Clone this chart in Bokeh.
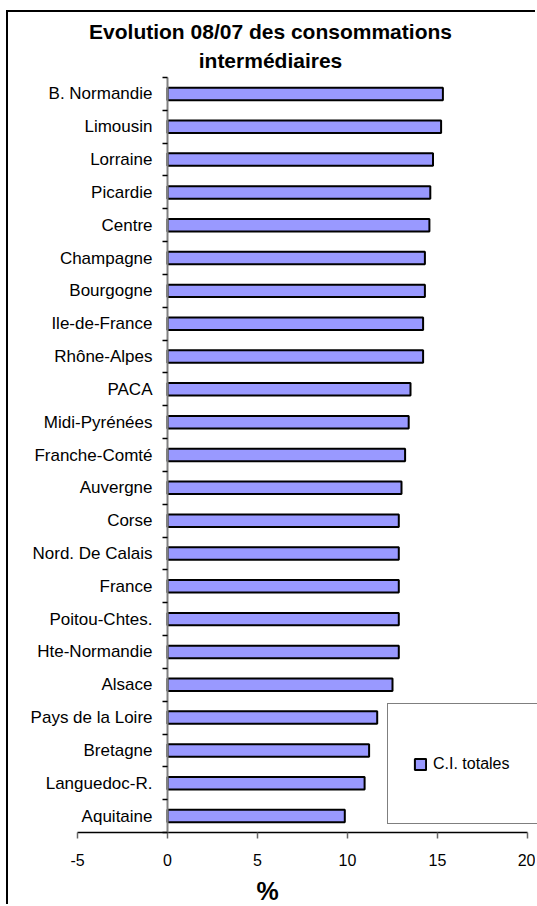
from bokeh.plotting import figure
from bokeh.models import Range1d, FixedTicker, Label, Legend, LegendItem
from bokeh.embed import file_html
from bokeh.resources import INLINE

# ---- data ----
regions = ["B. Normandie", "Limousin", "Lorraine", "Picardie", "Centre", "Champagne",
           "Bourgogne", "Ile-de-France", "Rhône-Alpes", "PACA", "Midi-Pyrénées",
           "Franche-Comté", "Auvergne", "Corse", "Nord. De Calais", "France",
           "Poitou-Chtes.", "Hte-Normandie", "Alsace", "Pays de la Loire", "Bretagne",
           "Languedoc-R.", "Aquitaine"]
values = [15.3, 15.2, 14.75, 14.6, 14.55, 14.3, 14.3, 14.2, 14.2, 13.5, 13.4, 13.2,
          13.0, 12.85, 12.85, 12.85, 12.85, 12.85, 12.5, 11.65, 11.2, 10.95, 9.85]
x_ticks = [-5, 0, 5, 10, 15, 20]
series_name = "C.I. totales"
title_lines = ["Evolution 08/07 des consommations", "intermédiaires"]
x_label = "%"

FONT = "Liberation Sans"
n = len(regions)
ypos = [n - 1 - i for i in range(n)]
boundaries = [k - 0.5 for k in range(n + 1)]

# ---- layout (pixels of the canvas) ----
W, H = 529, 894
x_min_px, x_max_px = 69, 519          # where x_ticks[0] and x_ticks[-1] sit
cat_top_px, cat_bot_px = 65, 820      # top / bottom of the category band
ppx = (x_max_px - x_min_px) / (x_ticks[-1] - x_ticks[0])
x_start = x_ticks[0] - x_min_px / ppx
x_end = x_ticks[-1] + (W - x_max_px) / ppx
ppy = (cat_bot_px - cat_top_px) / n
y_end = (n - 0.5) + cat_top_px / ppy
y_start = -0.5 - (H - cat_bot_px) / ppy

p = figure(width=W, height=H, output_backend="svg", toolbar_location=None,
           x_range=Range1d(x_start, x_end), y_range=Range1d(y_start, y_end),
           min_border=0, min_border_left=0, min_border_right=0,
           min_border_top=0, min_border_bottom=0)
p.styles = {"border-left": "2px solid black", "border-top": "2px solid black",
            "margin-left": "6px", "margin-top": "10px"}
p.outline_line_color = None
p.xgrid.visible = False
p.ygrid.visible = False

bars = p.hbar(y=ypos, left=0, right=values, height=0.38, fill_color="#9999FF",
              line_color="black", line_width=2)

# x axis on the bottom of the category band
xa = p.xaxis[0]
xa.fixed_location = -0.5
xa.bounds = (x_ticks[0], x_ticks[-1])
xa.ticker = FixedTicker(ticks=x_ticks)
xa.major_label_overrides = {t: str(t) for t in x_ticks}
xa.axis_line_color = "black"
xa.axis_line_width = 1.5
xa.major_tick_line_color = "#666666"
xa.major_tick_line_width = 1.5
xa.major_tick_out = 6
xa.major_tick_in = 0
xa.minor_tick_line_color = None
xa.major_label_standoff = 15
xa.major_label_text_font = FONT
xa.major_label_text_font_size = "16px"
xa.major_label_text_color = "black"

# y axis at x = 0
ya = p.yaxis[0]
ya.fixed_location = 0
ya.bounds = (-0.5, n - 0.5)
ya.ticker = FixedTicker(ticks=ypos, minor_ticks=boundaries)
ya.major_label_overrides = {y: name for y, name in zip(ypos, regions)}
ya.axis_line_color = "#808080"
ya.axis_line_width = 2
ya.major_tick_line_color = None
ya.major_tick_out = 0
ya.major_tick_in = 0
ya.minor_tick_line_color = "black"
ya.minor_tick_line_width = 1.5
ya.minor_tick_out = 5
ya.minor_tick_in = 0
ya.major_label_standoff = 10
ya.major_label_text_font = FONT
ya.major_label_text_font_size = "17px"
ya.major_label_text_color = "black"

# legend
legend = Legend(items=[LegendItem(label=series_name, renderers=[bars])],
                location=(379, 82), padding=25, margin=0,
                glyph_width=14, glyph_height=14, label_height=69, label_width=89,
                label_standoff=6, border_line_color="black", border_line_width=1.5,
                background_fill_color="white", label_text_font=FONT,
                label_text_font_size="16px", label_text_color="black")
p.add_layout(legend, "center")

# title
for txt, yy in zip(title_lines, [875, 846]):
    p.add_layout(Label(x=262, y=yy, x_units="screen", y_units="screen", text=txt,
                       text_align="center", text_baseline="middle", text_font=FONT,
                       text_font_style="bold", text_font_size="21px",
                       text_color="black"))

p.add_layout(Label(x=259, y=16, x_units="screen", y_units="screen", text=x_label,
                   text_align="center", text_baseline="middle", text_font=FONT,
                   text_font_style="bold", text_font_size="25px", text_color="black"))

open("out.html", "w").write(file_html(p, INLINE))
